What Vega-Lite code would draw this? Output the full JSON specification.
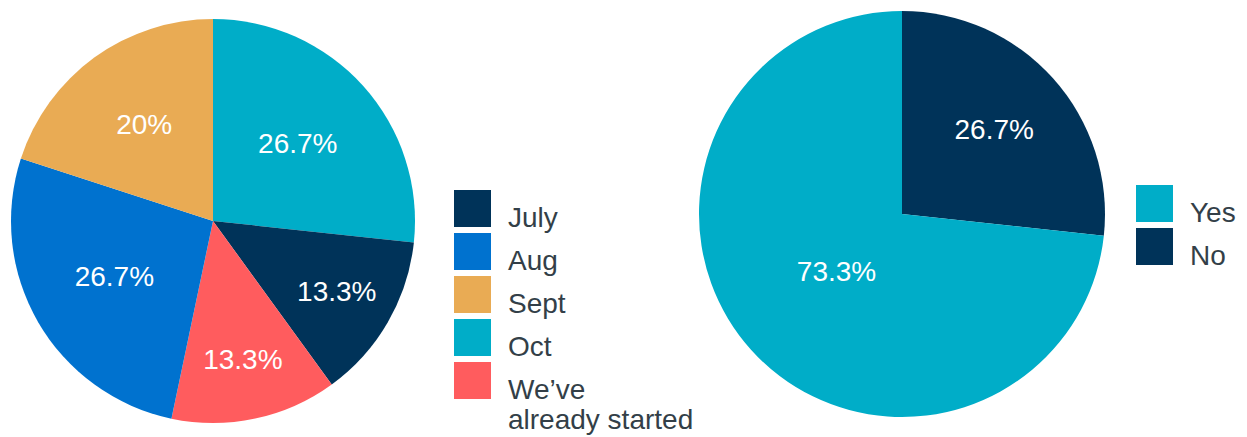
{
  "$schema": "https://vega.github.io/schema/vega-lite/v6.json",
  "padding": 0,
  "bounds": "flush",
  "spacing": 273,
  "config": {"view": {"stroke": null}, "font": "Liberation Sans"},
  "resolve": {"scale": {"color": "independent", "radius": "independent", "theta": "independent"}, "legend": {"color": "independent"}},
  "hconcat": [
    {
      "width": 426,
      "height": 442,
      "data": {"values": [
        {"start": "Oct", "share": 0.267, "order": 1},
        {"start": "July", "share": 0.133, "order": 2},
        {"start": "We’ve already started", "share": 0.133, "order": 3},
        {"start": "Aug", "share": 0.267, "order": 4},
        {"start": "Sept", "share": 0.2, "order": 5}
      ]},
      "layer": [
        {
          "mark": {"type": "arc", "outerRadius": 202},
          "encoding": {
            "theta": {"field": "share", "type": "quantitative", "stack": true},
            "order": {"field": "order", "type": "quantitative"},
            "color": {
              "field": "start", "type": "nominal",
              "scale": {"domain": ["July", "Aug", "Sept", "Oct", "We’ve already started"], "range": ["#003359", "#0072cf", "#e9ab54", "#00adc8", "#ff5c5e"]},
              "legend": {
                "orient": "none", "legendX": 454, "legendY": 190, "title": null, "padding": 0,
                "symbolType": "square", "symbolSize": 1369, "symbolStrokeWidth": 0, "symbolOpacity": 1,
                "labelFontSize": 28, "labelFont": "Liberation Sans", "labelColor": "#333f48",
                "labelOffset": 17, "rowPadding": 0, "labelBaseline": "middle", "labelLimit": 400,
                "labelExpr": "datum.label == 'We’ve already started' ? ['We’ve', 'already started'] : datum.label",
                "encode": {"labels": {"update": {"dy": {"value": 10}}}}
              }
            }
          }
        },
        {
          "mark": {"type": "text", "fill": "white", "fontSize": 28, "font": "Liberation Sans"},
          "encoding": {
            "theta": {"field": "share", "type": "quantitative", "stack": true},
            "order": {"field": "order", "type": "quantitative"},
            "radius": {"field": "share", "type": "quantitative", "scale": {"type": "linear", "zero": false, "domain": [0.133, 0.2, 0.267], "range": [143, 117, 114]}},
            "text": {"field": "share", "type": "quantitative", "format": ".1~%"}
          }
        }
      ]
    },
    {
      "width": 406,
      "height": 428,
      "data": {"values": [
        {"answer": "No", "share": 0.267, "order": 1},
        {"answer": "Yes", "share": 0.733, "order": 2}
      ]},
      "layer": [
        {
          "mark": {"type": "arc", "outerRadius": 203},
          "encoding": {
            "theta": {"field": "share", "type": "quantitative", "stack": true},
            "order": {"field": "order", "type": "quantitative"},
            "color": {
              "field": "answer", "type": "nominal",
              "scale": {"domain": ["Yes", "No"], "range": ["#00adc8", "#003359"]},
              "legend": {
                "orient": "none", "legendX": 437, "legendY": 185, "title": null, "padding": 0,
                "symbolType": "square", "symbolSize": 1369, "symbolStrokeWidth": 0, "symbolOpacity": 1,
                "labelFontSize": 28, "labelFont": "Liberation Sans", "labelColor": "#333f48",
                "labelOffset": 17, "rowPadding": 0, "labelBaseline": "middle",
                "encode": {"labels": {"update": {"dy": {"value": 10}}}}
              }
            }
          }
        },
        {
          "mark": {"type": "text", "fill": "white", "fontSize": 28, "font": "Liberation Sans"},
          "encoding": {
            "theta": {"field": "share", "type": "quantitative", "stack": true},
            "order": {"field": "order", "type": "quantitative"},
            "radius": {"field": "share", "type": "quantitative", "scale": {"type": "linear", "zero": false, "domain": [0.267, 0.733], "range": [124, 88]}},
            "text": {"field": "share", "type": "quantitative", "format": ".1~%"}
          }
        }
      ]
    }
  ]
}
